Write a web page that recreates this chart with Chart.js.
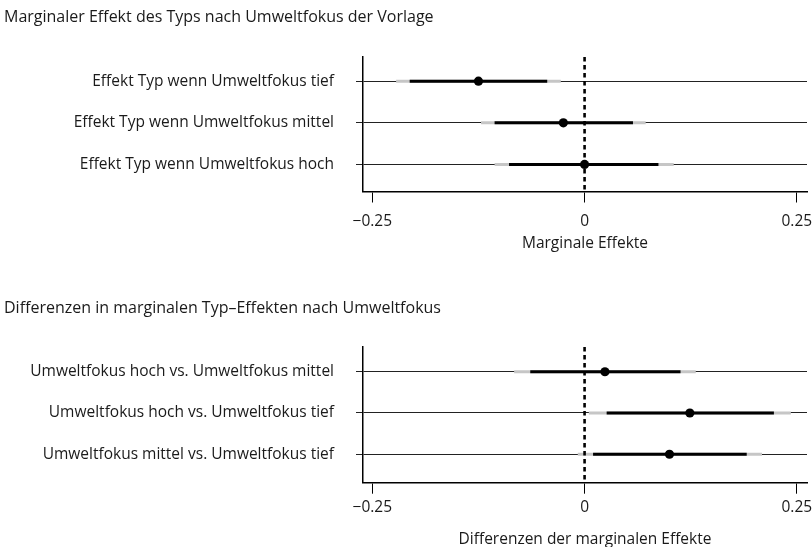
<!DOCTYPE html>
<html><head><meta charset="utf-8">
<script src="https://cdn.jsdelivr.net/npm/chart.js@4"></script>
<style>
html,body{margin:0;padding:0;background:#fff;}
#wrap{position:relative;width:812px;height:547px;}
.box{position:absolute;left:0;width:812px;}
canvas{display:block;}
</style></head><body>
<div id="wrap">
<div class="box" style="top:0;height:275px"><canvas id="c1" width="812" height="275"></canvas></div>
<div class="box" style="top:275px;height:272px"><canvas id="c2" width="812" height="272"></canvas></div>
</div>
<script>
// ---- data: top panel ----
const title1 = 'Marginaler Effekt des Typs nach Umweltfokus der Vorlage';
const xTitle1 = 'Marginale Effekte';
const categories1 = ['Effekt Typ wenn Umweltfokus tief', 'Effekt Typ wenn Umweltfokus mittel', 'Effekt Typ wenn Umweltfokus hoch'];
const estimate1 = [-0.125, -0.025, 0.000];
const innerLo1 = [-0.206, -0.106, -0.089];
const innerHi1 = [-0.044, 0.057, 0.087];
const outerLo1 = [-0.222, -0.122, -0.106];
const outerHi1 = [-0.028, 0.072, 0.105];

// ---- data: bottom panel ----
const title2 = 'Differenzen in marginalen Typ–Effekten nach Umweltfokus';
const xTitle2 = 'Differenzen der marginalen Effekte';
const categories2 = ['Umweltfokus hoch vs. Umweltfokus mittel', 'Umweltfokus hoch vs. Umweltfokus tief', 'Umweltfokus mittel vs. Umweltfokus tief'];
const estimate2 = [0.024, 0.124, 0.100];
const innerLo2 = [-0.064, 0.026, 0.010];
const innerHi2 = [0.113, 0.223, 0.191];
const outerLo2 = [-0.083, 0.005, -0.008];
const outerHi2 = [0.131, 0.243, 0.209];

// ---- shared axis ticks ----
const xTickValues = [-0.25, 0, 0.25];
const xTickLabels = ['−0.25', '0', '0.25'];
const zeroValue = 0;

const FAMILY = "'Open Sans', sans-serif";
const SIZE = 15.5;
const TITLE_SIZE = 16;
const TEXT = '#1a1a1a';

function makeChart(id, p) {
  const rows = p.categories.map((_, i) => i + 1);
  const datasets = [];
  datasets.push({ // point estimates
    data: rows.map((r, i) => ({x: p.est[i], y: r})),
    pointRadius: 4.6, pointBackgroundColor: '#000', pointBorderWidth: 0, showLine: false, order: 0
  });
  datasets.push({ // reference line at zero
    data: [{x: zeroValue, y: p.yMin}, {x: zeroValue, y: p.yMax}],
    borderColor: '#000', borderWidth: 2.6, borderDash: [4.5, 3.5], pointRadius: 0, showLine: true, order: 1
  });
  rows.forEach((r, i) => {
    datasets.push({
      data: [{x: p.innerLo[i], y: r}, {x: p.innerHi[i], y: r}],
      borderColor: '#000', borderWidth: 3, pointRadius: 0, showLine: true, borderCapStyle: 'butt', order: 2
    });
    datasets.push({
      data: [{x: p.outerLo[i], y: r}, {x: p.outerHi[i], y: r}],
      borderColor: '#c6c6c6', borderWidth: 3, pointRadius: 0, showLine: true, borderCapStyle: 'butt', order: 3
    });
  });
  const font = {family: FAMILY, size: SIZE, lineHeight: 1.2};
  return new Chart(document.getElementById(id), {
    type: 'scatter',
    data: {datasets},
    options: {
      responsive: false, animation: false,
      layout: {padding: {left: 4, right: 5, top: 0, bottom: 0}},
      plugins: {
        legend: {display: false}, tooltip: {enabled: false},
        title: {display: true, text: p.title, align: 'start', color: TEXT,
          font: {family: FAMILY, size: TITLE_SIZE, weight: 'normal', lineHeight: 1.2}, padding: p.titlePad}
      },
      scales: {
        x: {
          type: 'linear', min: -0.261, max: 0.262,
          afterBuildTicks: s => { s.ticks = xTickValues.map(v => ({value: v})); },
          afterFit: s => { s.height = p.xHeight; s.paddingLeft = 0; s.paddingRight = 0; },
          ticks: {callback: v => xTickLabels[xTickValues.indexOf(v)], font, color: TEXT, padding: p.xTickPad, autoSkip: false, maxRotation: 0},
          grid: {drawOnChartArea: false, drawTicks: true, tickLength: 11, color: '#000', lineWidth: 1},
          border: {display: true, color: '#000', width: 1.5},
          title: {display: true, text: p.xTitle, color: TEXT, font: {family: FAMILY, size: SIZE, lineHeight: 1},
            padding: {top: 0, bottom: p.xTitlePadBottom}}
        },
        y: {
          type: 'linear', reverse: true, min: p.yMin, max: p.yMax,
          afterBuildTicks: s => { s.ticks = rows.map(v => ({value: v})); },
          afterFit: s => { s.width = 359; s.paddingTop = 0; s.paddingBottom = 0; },
          ticks: {callback: v => p.categories[v - 1], font, color: TEXT, padding: 22, autoSkip: false},
          grid: {drawOnChartArea: true, drawTicks: true, tickLength: 7, color: '#222', lineWidth: 1},
          border: {display: true, color: '#000', width: 1.5}
        }
      }
    }
  });
}

makeChart('c1', {
  title: title1, xTitle: xTitle1, categories: categories1,
  est: estimate1, innerLo: innerLo1, innerHi: innerHi1, outerLo: outerLo1, outerHi: outerHi1,
  yMin: 0.42, yMax: 3.65, titlePad: {top: 7.4, bottom: 30.4},
  xHeight: 83.5, xTickPad: 9.5, xTitlePadBottom: 23.5
});
makeChart('c2', {
  title: title2, xTitle: xTitle2, categories: categories2,
  est: estimate2, innerLo: innerLo2, innerHi: innerHi2, outerLo: outerLo2, outerHi: outerHi2,
  yMin: 0.40, yMax: 3.69, titlePad: {top: 23.4, bottom: 29.4},
  xHeight: 64.3, xTickPad: 4.5, xTitlePadBottom: 0
});
</script>
</body></html>
